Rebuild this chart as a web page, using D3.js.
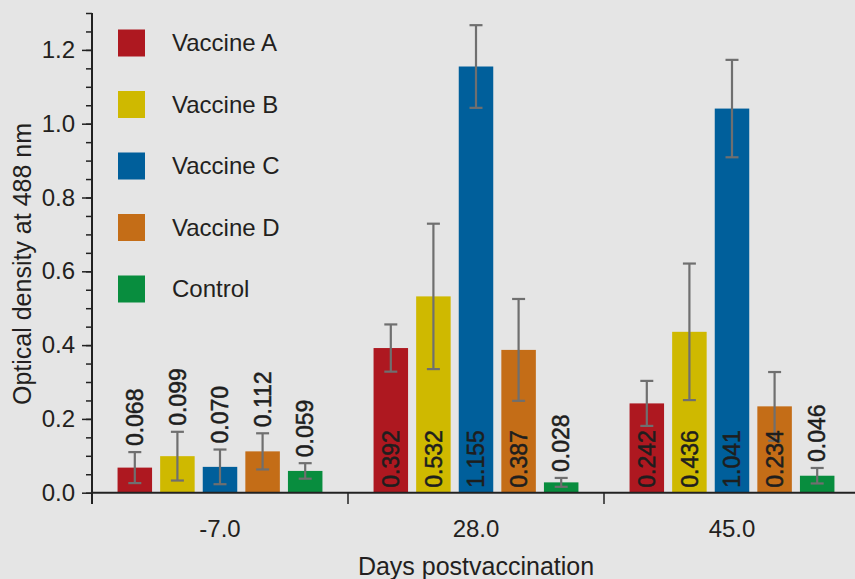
<!DOCTYPE html>
<html>
<head>
<meta charset="utf-8">
<script src="https://cdn.jsdelivr.net/npm/d3@7"></script>
<style>
  body { margin: 0; background: #e5e5e5; }
  svg { display: block; font-family: "Liberation Sans", Arial, sans-serif; }
</style>
</head>
<body>
<svg id="chart"></svg>
<script>
// days postvaccination (x groups)
var days = ["-7.0", "28.0", "45.0"]
var series = ["Vaccine A", "Vaccine B", "Vaccine C", "Vaccine D", "Control"]
var colors = ["#ae1820", "#cfb900", "#005f9b", "#c46d17", "#088d3e"]

// mean optical density per day
var vaccineA = [0.068, 0.392, 0.242]
var vaccineB = [0.099, 0.532, 0.436]
var vaccineC = [0.070, 1.155, 1.041]
var vaccineD = [0.112, 0.387, 0.234]
var control  = [0.059, 0.028, 0.046]

// error bar half-widths
var errA = [0.042, 0.064, 0.061]
var errB = [0.066, 0.197, 0.185]
var errC = [0.047, 0.112, 0.132]
var errD = [0.049, 0.138, 0.093]
var errCtl = [0.021, 0.012, 0.021]

var yTicks = [0, 0.2, 0.4, 0.6, 0.8, 1.0, 1.2]

var values = [vaccineA, vaccineB, vaccineC, vaccineD, control]
var errors = [errA, errB, errC, errD, errCtl]

var width = 855, height = 579
var svg = d3.select("#chart")
    .attr("width", width)
    .attr("height", height)

var x0 = d3.scaleBand()
    .domain(days)
    .range([92, 860])
    .padding(0)

var x1 = d3.scaleBand()
    .domain(series)
    .range([0, x0.bandwidth()])
    .paddingInner(0.19)
    .paddingOuter(0.6)

var y = d3.scaleLinear()
    .domain([0, 1.3])
    .range([492.7, 13])

var fmt = d3.format(".3f")

// flatten into one record per bar
var bars = []
days.forEach((day, i) => {
    series.forEach((s, j) => {
        bars.push({day: day, series: s, color: colors[j], value: values[j][i], err: errors[j][i]})
    })
})

// bars
svg.append("g").selectAll("rect")
    .data(bars)
    .enter()
    .append("rect")
        .attr("x", d => x0(d.day) + x1(d.series))
        .attr("y", d => y(d.value))
        .attr("width", x1.bandwidth())
        .attr("height", d => y(0) - y(d.value))
        .attr("fill", d => d.color)

// error bars
var eb = svg.append("g")
    .attr("stroke", "#6f6f6f")
    .attr("stroke-width", 2.2)
var cx = d => x0(d.day) + x1(d.series) + x1.bandwidth() / 2
eb.selectAll(".stem")
    .data(bars)
    .enter()
    .append("line")
        .attr("x1", cx).attr("x2", cx)
        .attr("y1", d => y(d.value + d.err))
        .attr("y2", d => y(d.value - d.err))
eb.selectAll(".capTop")
    .data(bars)
    .enter()
    .append("line")
        .attr("x1", d => cx(d) - 6.5).attr("x2", d => cx(d) + 6.5)
        .attr("y1", d => y(d.value + d.err))
        .attr("y2", d => y(d.value + d.err))
eb.selectAll(".capBot")
    .data(bars)
    .enter()
    .append("line")
        .attr("x1", d => cx(d) - 6.5).attr("x2", d => cx(d) + 6.5)
        .attr("y1", d => y(d.value - d.err))
        .attr("y2", d => y(d.value - d.err))

// value labels: inside the bar when tall enough, else above the error bar
svg.append("g").selectAll("text")
    .data(bars)
    .enter()
    .append("text")
        .attr("transform", d => {
            var ty = d.value >= 0.2 ? y(0) - 5 : y(d.value + d.err) - 6
            return "translate(" + cx(d) + "," + ty + ") rotate(-90)"
        })
        .attr("dy", "0.36em")
        .attr("font-size", 23)
        .attr("fill", "#1e1e1e")
        .attr("stroke", "#1e1e1e")
        .attr("stroke-width", 0.5)
        .text(d => fmt(d.value))

// y axis
var yAxis = svg.append("g")
    .attr("transform", "translate(92,0)")
    .call(d3.axisLeft(y)
        .tickValues(d3.range(0, 1.3001, 0.05))
        .tickSize(6)
        .tickFormat(""))
yAxis.select(".domain").remove()
var yMajor = svg.append("g")
    .attr("transform", "translate(92,0)")
    .call(d3.axisLeft(y)
        .tickValues(yTicks)
        .tickSize(10)
        .tickPadding(7)
        .tickFormat(d3.format(".1f")))
yMajor.select(".domain").remove()
svg.selectAll(".tick line").attr("stroke", "#222").attr("stroke-width", 1.5)
yMajor.selectAll("text")
    .attr("font-size", 24)
    .attr("font-family", "Liberation Sans, Arial, sans-serif")
    .attr("fill", "#231f20")

svg.append("line")
    .attr("x1", 92).attr("x2", 92)
    .attr("y1", 13).attr("y2", 504)
    .attr("stroke", "#222")
    .attr("stroke-width", 2)

// x axis
svg.append("line")
    .attr("x1", 91).attr("x2", width)
    .attr("y1", y(0)).attr("y2", y(0))
    .attr("stroke", "#222")
    .attr("stroke-width", 2)
svg.append("g").selectAll("line")
    .data(days.slice(1))
    .enter()
    .append("line")
        .attr("x1", d => x0(d)).attr("x2", d => x0(d))
        .attr("y1", y(0)).attr("y2", 504)
        .attr("stroke", "#222")
        .attr("stroke-width", 1.5)
var xAxis = svg.append("g")
    .attr("transform", "translate(0," + y(0) + ")")
    .call(d3.axisBottom(x0).tickSize(0).tickPadding(27))
xAxis.select(".domain").remove()
xAxis.selectAll("text")
    .attr("font-size", 24)
    .attr("font-family", "Liberation Sans, Arial, sans-serif")
    .attr("fill", "#231f20")

// axis titles
svg.append("text")
    .attr("x", 476)
    .attr("y", 575)
    .attr("text-anchor", "middle")
    .attr("font-size", 25)
    .attr("fill", "#231f20")
    .text("Days postvaccination")
svg.append("text")
    .attr("transform", "translate(22,264) rotate(-90)")
    .attr("text-anchor", "middle")
    .attr("dy", "0.35em")
    .attr("font-size", 25)
    .attr("fill", "#231f20")
    .text("Optical density at 488 nm")

// legend
var legend = svg.append("g").selectAll("g")
    .data(series)
    .enter()
    .append("g")
        .attr("transform", (d, i) => "translate(118," + (43 + i * 61.5) + ")")
legend.append("rect")
    .attr("x", 0)
    .attr("y", -13.5)
    .attr("width", 27)
    .attr("height", 27)
    .attr("fill", (d, i) => colors[i])
legend.append("text")
    .attr("x", 54)
    .attr("dy", "0.35em")
    .attr("font-size", 24)
    .attr("fill", "#231f20")
    .text(d => d)
</script>
</body>
</html>
